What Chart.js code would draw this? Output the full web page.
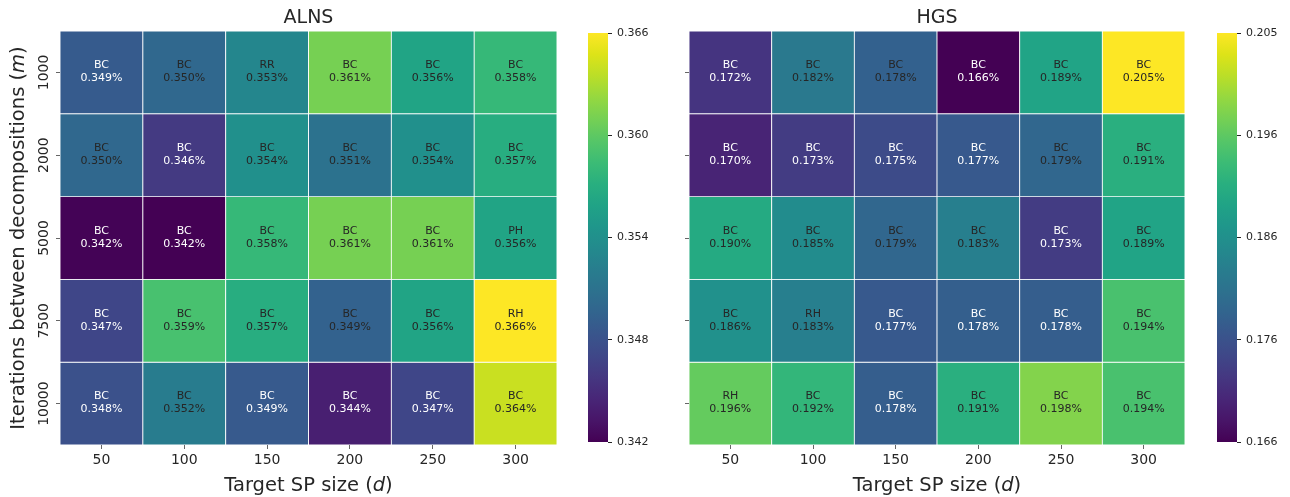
<!DOCTYPE html>
<html>
<head>
<meta charset="utf-8">
<script src="https://cdn.jsdelivr.net/npm/chart.js@4.4.0/dist/chart.umd.min.js"></script>
<style>
  body { margin: 0; background: #fff; }
  #wrap { position: relative; width: 1290px; height: 497px; overflow: hidden; }
  canvas { position: absolute; top: 0; }
</style>
</head>
<body>
<div id="wrap">
  <canvas id="alns" width="575" height="497" style="left:0px"></canvas>
  <canvas id="alnsBar" width="110" height="497" style="left:580px"></canvas>
  <canvas id="hgs" width="570" height="497" style="left:630px"></canvas>
  <canvas id="hgsBar" width="81" height="497" style="left:1209px"></canvas>
</div>
<script>
// iterations between decompositions (rows) and target subproblem size (columns)
const rowLabels = ['1000', '2000', '5000', '7500', '10000'];
const colLabels = ['50', '100', '150', '200', '250', '300'];

// best decomposition method and gap (%) per cell
const alnsMethod = [
  ['BC', 'BC', 'RR', 'BC', 'BC', 'BC'],
  ['BC', 'BC', 'BC', 'BC', 'BC', 'BC'],
  ['BC', 'BC', 'BC', 'BC', 'BC', 'PH'],
  ['BC', 'BC', 'BC', 'BC', 'BC', 'RH'],
  ['BC', 'BC', 'BC', 'BC', 'BC', 'BC']
];
const alnsGap = [
  [0.3488, 0.3500, 0.3530, 0.3610, 0.3560, 0.3580],
  [0.3500, 0.3460, 0.3540, 0.3510, 0.3540, 0.3570],
  [0.3421, 0.3420, 0.3580, 0.3610, 0.3610, 0.3560],
  [0.3470, 0.3590, 0.3570, 0.3494, 0.3560, 0.3660],
  [0.3480, 0.3520, 0.3487, 0.3440, 0.3470, 0.3640]
];

const hgsMethod = [
  ['BC', 'BC', 'BC', 'BC', 'BC', 'BC'],
  ['BC', 'BC', 'BC', 'BC', 'BC', 'BC'],
  ['BC', 'BC', 'BC', 'BC', 'BC', 'BC'],
  ['BC', 'RH', 'BC', 'BC', 'BC', 'BC'],
  ['RH', 'BC', 'BC', 'BC', 'BC', 'BC']
];
const hgsGap = [
  [0.1720, 0.1820, 0.1781, 0.1661, 0.1890, 0.2054],
  [0.1700, 0.1730, 0.1750, 0.1770, 0.1790, 0.1910],
  [0.1900, 0.1850, 0.1790, 0.1830, 0.1730, 0.1890],
  [0.1860, 0.1830, 0.1770, 0.1778, 0.1777, 0.1940],
  [0.1960, 0.1920, 0.1777, 0.1910, 0.1980, 0.1940]
];

// colorbar tick labels, spread evenly from min to max
const alnsCbarTicks = ['0.342', '0.348', '0.354', '0.360', '0.366'];
const hgsCbarTicks = ['0.166', '0.176', '0.186', '0.196', '0.205'];

const FONT = '"DejaVu Sans", sans-serif';
const INK = '#262626';
Chart.defaults.font.family = FONT;
Chart.defaults.color = INK;

const viridisStops = ['#440154', '#481568', '#482677', '#453781', '#3F4788', '#39558C', '#32648E',
  '#2D718E', '#287D8E', '#238A8D', '#1F968B', '#20A386', '#29AF7F', '#3CBC75', '#56C667',
  '#75D054', '#95D840', '#BADE28', '#DDE318', '#FDE725'];

function hexRgb(h) {
  return [1, 3, 5].map(k => parseInt(h.substr(k, 2), 16));
}

function viridis(t) {
  t = Math.min(1, Math.max(0, t));
  const n = viridisStops.length - 1;
  const k = Math.min(n - 1, Math.floor(t * n));
  const f = t * n - k;
  const a = hexRgb(viridisStops[k]), b = hexRgb(viridisStops[k + 1]);
  const c = a.map((v, i) => Math.round(v + (b[i] - v) * f));
  return `rgb(${c[0]},${c[1]},${c[2]})`;
}

// text made of normal and italic pieces, centred on (x, y)
function mixedText(ctx, parts, x, y, size, angle) {
  ctx.save();
  ctx.translate(x, y);
  ctx.rotate(angle || 0);
  ctx.fillStyle = INK;
  ctx.textBaseline = 'alphabetic';
  ctx.textAlign = 'left';
  const fonts = parts.map(p => (p[1] ? 'italic ' : '') + size + 'px ' + FONT);
  let total = 0;
  parts.forEach((p, i) => { ctx.font = fonts[i]; total += ctx.measureText(p[0]).width; });
  let cx = -total / 2;
  parts.forEach((p, i) => {
    ctx.font = fonts[i];
    ctx.fillText(p[0], cx, 0);
    cx += ctx.measureText(p[0]).width;
  });
  ctx.restore();
}

function heatmap(id, title, methods, gaps, opts) {
  const flat = gaps.flat();
  const lo = Math.min(...flat), hi = Math.max(...flat);
  const norm = v => (v - lo) / (hi - lo);

  const datasets = rowLabels.map((row, i) => ({
    label: row,
    data: gaps[i].map(() => [i, i + 1]),
    backgroundColor: gaps[i].map(v => viridis(norm(v))),
    borderColor: '#ffffff',
    borderWidth: 0.8,
    borderSkipped: false,
    grouped: false,
    barPercentage: 1,
    categoryPercentage: 1
  }));

  const annotate = {
    id: 'annotate',
    afterDatasetsDraw(chart) {
      const ctx = chart.ctx;
      ctx.save();
      ctx.font = '11px ' + FONT;
      ctx.textAlign = 'center';
      ctx.textBaseline = 'middle';
      chart.data.datasets.forEach((ds, i) => {
        chart.getDatasetMeta(i).data.forEach((bar, j) => {
          const v = gaps[i][j];
          const cy = (bar.y + bar.base) / 2;
          ctx.fillStyle = norm(v) < 0.3 ? '#ffffff' : INK;
          ctx.fillText(methods[i][j], bar.x, cy - 7);
          ctx.fillText(v.toFixed(3) + '%', bar.x, cy + 6);
        });
      });
      ctx.restore();
    },
    afterDraw(chart) {
      const ctx = chart.ctx;
      const a = chart.chartArea;
      const mid = (a.left + a.right) / 2;
      ctx.save();
      ctx.font = '19px ' + FONT;
      ctx.fillStyle = INK;
      ctx.textAlign = 'center';
      ctx.fillText(title, mid, 23);
      ctx.restore();
      mixedText(ctx, [['Target SP size (', false], ['d', true], [')', false]], mid, 491, 19.5);
      if (opts.rowLabels) {
        mixedText(ctx, [['Iterations between decompositions (', false], ['m', true], [')', false]],
          24, (a.top + a.bottom) / 2, 19.5, -Math.PI / 2);
      }
    }
  };

  new Chart(document.getElementById(id), {
    type: 'bar',
    data: { labels: colLabels, datasets: datasets },
    options: {
      responsive: false,
      animation: false,
      events: [],
      layout: { padding: { top: 31, right: opts.padRight, left: 0, bottom: 0 } },
      plugins: { legend: { display: false }, tooltip: { enabled: false } },
      scales: {
        x: {
          type: 'category',
          offset: true,
          grid: { offset: false, drawOnChartArea: false, tickLength: 4, color: '#666' },
          border: { display: false },
          ticks: { font: { size: 14 }, color: INK, padding: 3, maxRotation: 0 },
          afterFit: s => { s.height = 52; }
        },
        y: {
          type: 'linear',
          min: 0,
          max: rowLabels.length,
          reverse: true,
          afterBuildTicks: s => { s.ticks = rowLabels.map((r, i) => ({ value: i + 0.5 })); },
          grid: { drawOnChartArea: false, tickLength: 4, color: '#666' },
          border: { display: false },
          ticks: {
            display: opts.rowLabels,
            autoSkip: false,
            minRotation: 90,
            maxRotation: 90,
            crossAlign: 'center',
            padding: -11,
            font: { size: 14 },
            color: INK,
            callback: (v, i) => rowLabels[i]
          },
          afterFit: s => { s.width = opts.axisWidth; }
        }
      }
    },
    plugins: [annotate]
  });
}

function colorbar(id, gaps, tickLabels, axisWidth) {
  const flat = gaps.flat();
  const lo = Math.min(...flat), hi = Math.max(...flat);
  const step = (hi - lo) / (tickLabels.length - 1);

  new Chart(document.getElementById(id), {
    type: 'bar',
    data: {
      labels: [''],
      datasets: [{
        data: [[lo, hi]],
        backgroundColor: c => {
          const a = c.chart.chartArea;
          if (!a) return viridis(0.5);
          const g = c.chart.ctx.createLinearGradient(0, a.bottom, 0, a.top);
          viridisStops.forEach((s, k) => g.addColorStop(k / (viridisStops.length - 1), s));
          return g;
        },
        borderWidth: 0,
        barPercentage: 1,
        categoryPercentage: 1
      }]
    },
    options: {
      responsive: false,
      animation: false,
      events: [],
      layout: { padding: { left: 8, top: 33, bottom: 55, right: 0 } },
      plugins: { legend: { display: false }, tooltip: { enabled: false } },
      scales: {
        x: { display: false },
        y: {
          position: 'right',
          min: lo,
          max: hi,
          afterBuildTicks: s => { s.ticks = tickLabels.map((t, i) => ({ value: lo + i * step })); },
          grid: { drawOnChartArea: false, tickLength: 4, color: INK },
          border: { display: false },
          ticks: { font: { size: 11 }, color: INK, padding: 5, callback: (v, i) => tickLabels[i] },
          afterFit: s => { s.width = axisWidth; }
        }
      }
    }
  });
}

heatmap('alns', 'ALNS', alnsMethod, alnsGap, { rowLabels: true, axisWidth: 60, padRight: 18 });
heatmap('hgs', 'HGS', hgsMethod, hgsGap, { rowLabels: false, axisWidth: 59, padRight: 15 });
colorbar('alnsBar', alnsGap, alnsCbarTicks, 82);
colorbar('hgsBar', hgsGap, hgsCbarTicks, 53);
</script>
</body>
</html>
